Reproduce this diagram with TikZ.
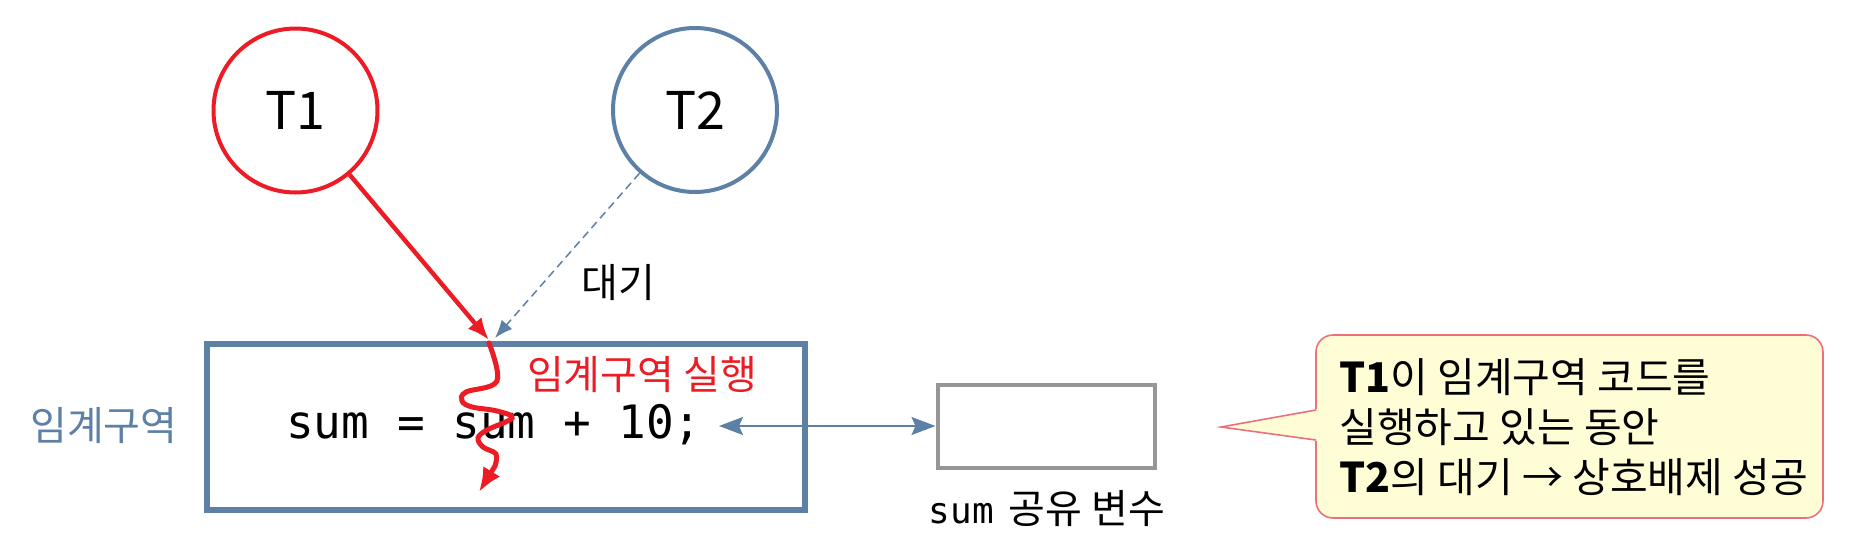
\documentclass[tikz,border=0pt]{standalone}
\usepackage{fontspec}
\setmainfont{Noto Sans CJK KR}
\newfontfamily\mono{DejaVu Sans Mono}
\usetikzlibrary{arrows.meta}
\definecolor{tred}{RGB}{237,28,36}
\definecolor{tblue}{RGB}{92,128,166}
\definecolor{tgray}{RGB}{150,150,152}
\definecolor{cfill}{RGB}{255,253,214}
\definecolor{cdraw}{RGB}{236,112,124}
\begin{document}
\begin{tikzpicture}[x=0.5pt,y=-0.5pt,
  thread/.style={circle,line width=2pt,minimum size=82pt,inner sep=0pt,
    font=\fontsize{26pt}{30pt}\selectfont},
  kor/.style={font=\fontsize{20pt}{25pt}\selectfont,inner sep=0pt},
  runarrow/.style={tred,line width=2.2pt,-{Latex[length=11pt,width=9pt]}},
  waitarrow/.style={tblue,line width=0.75pt,dash pattern=on 4pt off 2.5pt,
    -{Latex[length=9pt,width=7pt]}},
  wavy/.style={tred,line width=2.5pt,line cap=round,-{Latex[length=12pt,width=10pt]}},
  dblarrow/.style={tblue,line width=1pt,
    {Stealth[length=12pt,width=9pt,inset=2pt]}-{Stealth[length=12pt,width=9pt,inset=2pt]}},
  ]
\useasboundingbox (0,0) rectangle (1860,552);

% threads
\node[thread,draw=tred] (t1) at (295.5,110.5) {T1};
\node[thread,draw=tblue] (t2) at (695,110) {T2};

% critical section box
\node[draw=tblue,line width=3pt,minimum width=299pt,minimum height=83pt,inner sep=0pt] (cs) at (506,426.7) {};
\node[kor,text=tblue,anchor=base] (cslbl) at (104,440) {임계구역};
\node[anchor=base,inner sep=0pt,font=\mono\fontsize{23pt}{27pt}\selectfont] (code) at (494,438) {sum = sum + 10;};
\node[kor,text=tred,anchor=base] (runlbl) at (642,389) {임계구역 실행};

% arrows from threads
\coordinate (t1end) at (489,340);
\coordinate (t2end) at (495,338);
\draw[runarrow] (t1) -- (t1end);
\draw[waitarrow] (t2) -- (t2end);
\node[kor,anchor=base] (waitlbl) at (618,297) {대기};

% wavy execution path
\draw[wavy] plot[smooth,tension=0.6] coordinates {(489,343) (497,381) (466,392) (462,401) (472,407) (497,411) (512,418) (487,430) (478,438) (483,447) (496,454) (495,466)} -- (479,492);

% shared variable
\node[draw=tgray,line width=2pt,minimum width=108.5pt,minimum height=41.5pt,inner sep=0pt] (var) at (1046,426) {};
\node[kor,anchor=base] (varlbl) at (1047,523) {{\mono\fontsize{18pt}{20pt}\selectfont sum}\hspace{3pt} 공유 변수};
\coordinate (codeR) at (719,426);
\draw[dblarrow] (codeR) -- (var.west);

% callout
\filldraw[fill=cfill,draw=cdraw,line width=0.8pt,rounded corners=8.5pt] (1316,335) rectangle (1823,518);
\fill[cfill] (1318,409) -- (1221,427) -- (1318,441) -- cycle;
\draw[cdraw,line width=0.8pt,line join=miter] (1316,410) -- (1221,427) -- (1316,440);
\node[kor,anchor=west,align=left,font=\fontsize{20.5pt}{25pt}\selectfont] (note) at (1339,427)
  {\textbf{T1}이 임계구역 코드를\\실행하고 있는 동안\\\textbf{T2}의 대기 → 상호배제 성공};
\end{tikzpicture}
\end{document}
